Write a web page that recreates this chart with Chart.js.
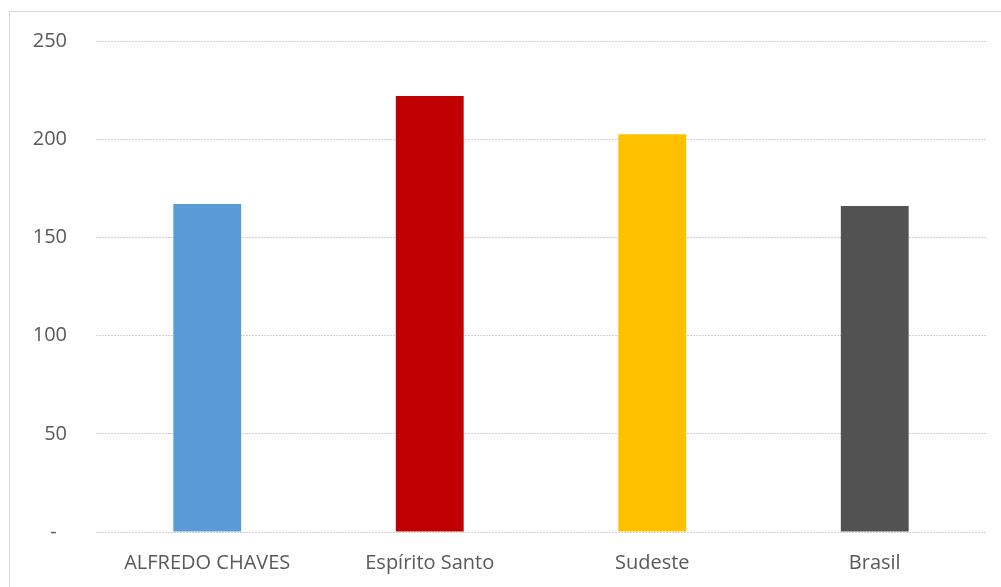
<!DOCTYPE html>
<html>
<head>
<meta charset="utf-8">
<script src="https://cdn.jsdelivr.net/npm/chart.js@4"></script>
<style>
  html, body { margin: 0; padding: 0; background: #fff; }
  #wrap { position: relative; width: 1001px; height: 587px; overflow: hidden; }
  #frame { position: absolute; left: 9px; top: 11px; width: 1100px; height: 700px;
           border-left: 1px solid #d9d9d9; border-top: 1px solid #d9d9d9; box-sizing: border-box; }
  canvas { position: absolute; left: 0; top: 0; }
</style>
</head>
<body>
<div id="wrap">
  <div id="frame"></div>
  <canvas id="c" width="1001" height="587"></canvas>
</div>
<script>
const categories = ['ALFREDO CHAVES', 'Espírito Santo', 'Sudeste', 'Brasil'];
const values = [167, 222, 202.5, 166];
const barColors = ['#5b9bd5', '#c00000', '#ffc000', '#525252'];
const yTicks = [0, 50, 100, 150, 200, 250];

const fontFamily = "'Open Sans', 'Liberation Sans', sans-serif";

new Chart(document.getElementById('c'), {
  type: 'bar',
  data: {
    labels: categories,
    datasets: [{
      data: values,
      backgroundColor: barColors,
      borderWidth: 0,
      barPercentage: 0.61,
      categoryPercentage: 0.5
    }]
  },
  options: {
    responsive: false,
    animation: false,
    devicePixelRatio: 1,
    layout: { padding: { top: 39.5, right: 15, left: 0, bottom: 0 } },
    plugins: { legend: { display: false }, tooltip: { enabled: false } },
    scales: {
      x: {
        grid: { display: false, drawTicks: false },
        border: { display: false },
        ticks: { color: '#595959', font: { family: fontFamily, size: 20 }, padding: 19 },
        afterFit(scale) { scale.height = 55; }
      },
      y: {
        min: 0, max: 250,
        afterBuildTicks(scale) { scale.ticks = yTicks.map(v => ({ value: v })); },
        grid: { color: '#d0d0d0', drawTicks: false },
        border: { display: false, dash: [2, 1] },
        ticks: {
          color: '#595959',
          font: { family: fontFamily, size: 20 },
          padding: 29,
          callback: v => v === 0 ? '-  ' : String(v)
        },
        afterFit(scale) { scale.width = 96; }
      }
    }
  }
});
</script>
</body>
</html>
